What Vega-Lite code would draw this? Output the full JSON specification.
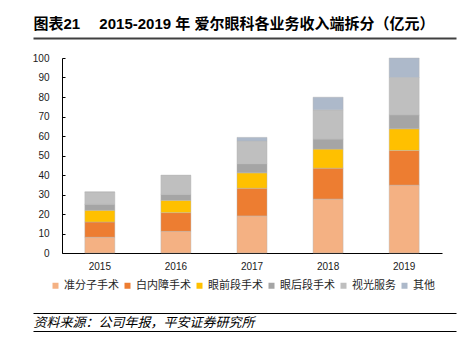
{
  "$schema": "https://vega.github.io/schema/vega-lite/v6.json",
  "background": "white",
  "padding": {"left": 32, "top": 16, "right": 6, "bottom": 4},
  "width": 380,
  "height": 195,
  "config": {
    "view": {"stroke": null},
    "font": "Liberation Sans, Noto Sans CJK SC",
    "axis": {"labelFont": "Liberation Sans, Noto Sans CJK SC", "titleFont": "Liberation Sans, Noto Sans CJK SC"},
    "legend": {"labelFont": "Liberation Sans, Noto Sans CJK SC"}
  },
  "data": {
    "values": [
      {"year": "2015", "category": "准分子手术", "rank": 1, "value": 8.1},
      {"year": "2015", "category": "白内障手术", "rank": 2, "value": 7.8},
      {"year": "2015", "category": "眼前段手术", "rank": 3, "value": 6.0},
      {"year": "2015", "category": "眼后段手术", "rank": 4, "value": 3.1},
      {"year": "2015", "category": "视光服务", "rank": 5, "value": 6.3},
      {"year": "2015", "category": "其他", "rank": 6, "value": 0.0},
      {"year": "2016", "category": "准分子手术", "rank": 1, "value": 11.1},
      {"year": "2016", "category": "白内障手术", "rank": 2, "value": 9.6},
      {"year": "2016", "category": "眼前段手术", "rank": 3, "value": 6.3},
      {"year": "2016", "category": "眼后段手术", "rank": 4, "value": 3.1},
      {"year": "2016", "category": "视光服务", "rank": 5, "value": 9.7},
      {"year": "2016", "category": "其他", "rank": 6, "value": 0.0},
      {"year": "2017", "category": "准分子手术", "rank": 1, "value": 19.0},
      {"year": "2017", "category": "白内障手术", "rank": 2, "value": 14.2},
      {"year": "2017", "category": "眼前段手术", "rank": 3, "value": 7.9},
      {"year": "2017", "category": "眼后段手术", "rank": 4, "value": 4.6},
      {"year": "2017", "category": "视光服务", "rank": 5, "value": 11.7},
      {"year": "2017", "category": "其他", "rank": 6, "value": 1.9},
      {"year": "2018", "category": "准分子手术", "rank": 1, "value": 27.7},
      {"year": "2018", "category": "白内障手术", "rank": 2, "value": 15.8},
      {"year": "2018", "category": "眼前段手术", "rank": 3, "value": 9.8},
      {"year": "2018", "category": "眼后段手术", "rank": 4, "value": 5.1},
      {"year": "2018", "category": "视光服务", "rank": 5, "value": 15.0},
      {"year": "2018", "category": "其他", "rank": 6, "value": 6.5},
      {"year": "2019", "category": "准分子手术", "rank": 1, "value": 34.8},
      {"year": "2019", "category": "白内障手术", "rank": 2, "value": 17.8},
      {"year": "2019", "category": "眼前段手术", "rank": 3, "value": 11.1},
      {"year": "2019", "category": "眼后段手术", "rank": 4, "value": 7.1},
      {"year": "2019", "category": "视光服务", "rank": 5, "value": 19.2},
      {"year": "2019", "category": "其他", "rank": 6, "value": 10.0}
    ]
  },
  "resolve": {"scale": {"x": "independent"}, "axis": {"x": "independent"}},
  "layer": [
    {
      "mark": {"type": "bar", "stroke": "#b4b4b4", "strokeWidth": 0.6, "strokeOpacity": 0.7},
      "encoding": {
        "x": {
          "field": "year",
          "type": "nominal",
          "scale": {"paddingInner": 0.605, "paddingOuter": 0.3},
          "axis": {
            "title": null,
            "labelAngle": 0,
            "labelFontSize": 10,
            "labelColor": "#1a1a1a",
            "labelPadding": 8,
            "ticks": false,
            "domainColor": "#000000",
            "domainWidth": 1
          }
        },
        "y": {
          "field": "value",
          "type": "quantitative",
          "stack": "zero",
          "scale": {"domain": [0, 100], "nice": false},
          "axis": {
            "title": null,
            "values": [0, 10, 20, 30, 40, 50, 60, 70, 80, 90, 100],
            "grid": false,
            "labelFontSize": 10,
            "labelColor": "#1a1a1a",
            "labelPadding": 16,
            "tickSize": -3,
            "tickColor": "#000000",
            "domainColor": "#000000",
            "domainWidth": 1
          }
        },
        "color": {
          "field": "category",
          "type": "nominal",
          "sort": ["准分子手术", "白内障手术", "眼前段手术", "眼后段手术", "视光服务", "其他"],
          "scale": {
            "domain": ["准分子手术", "白内障手术", "眼前段手术", "眼后段手术", "视光服务", "其他"],
            "range": ["#F4B183", "#ED7D31", "#FFC000", "#A5A5A5", "#BFBFBF", "#ADB9CA"]
          },
          "legend": {
            "title": null,
            "orient": "none",
            "legendX": -12,
            "legendY": 222,
            "direction": "horizontal",
            "padding": 0,
            "symbolType": "square",
            "symbolSize": 36,
            "symbolStrokeWidth": 0,
            "labelFontSize": 11,
            "labelColor": "#262626",
            "labelOffset": 3,
            "columnPadding": 3
          }
        },
        "order": {"field": "rank", "sort": "ascending"}
      }
    },
    {
      "mark": {"type": "rule", "opacity": 0},
      "encoding": {
        "x": {
          "datum": 0,
          "type": "quantitative",
          "scale": {"domain": [0, 1], "range": [-29, 394]},
          "axis": {
            "orient": "top",
            "offset": 20,
            "domain": true,
            "domainOpacity": 1,
            "labels": false,
            "ticks": false,
            "grid": false,
            "domainColor": "#404040",
            "domainWidth": 2,
            "minExtent": 0,
            "title": "图表21　 2015-2019 年 爱尔眼科各业务收入端拆分（亿元）",
            "titleAnchor": "start",
            "titleAlign": "left",
            "titleBaseline": "alphabetic",
            "titlePadding": 10,
            "titleFontSize": 15,
            "titleFontWeight": "bold",
            "titleColor": "#000000",
            "titleLimit": 1000
          }
        }
      }
    },
    {
      "mark": {"type": "rule", "opacity": 0},
      "encoding": {
        "x": {
          "datum": 0,
          "type": "quantitative",
          "scale": {"domain": [0, 1], "range": [-29, 394]},
          "axis": {
            "orient": "bottom",
            "offset": 60,
            "domain": true,
            "domainOpacity": 1,
            "labels": false,
            "ticks": false,
            "grid": false,
            "domainColor": "#000000",
            "domainWidth": 1.2,
            "minExtent": 0,
            "title": "资料来源：公司年报，平安证券研究所",
            "titleAnchor": "start",
            "titleAlign": "left",
            "titleBaseline": "alphabetic",
            "titlePadding": 13.5,
            "titleFontSize": 13,
            "titleFontWeight": "normal",
            "titleFontStyle": "italic",
            "titleColor": "#000000",
            "titleLimit": 1000
          }
        }
      }
    },
    {
      "mark": {"type": "rule", "opacity": 0},
      "encoding": {
        "x": {
          "datum": 0,
          "type": "quantitative",
          "scale": {"domain": [0, 1], "range": [-29, 394]},
          "axis": {
            "orient": "bottom",
            "offset": 78,
            "domain": true,
            "domainOpacity": 1,
            "labels": false,
            "ticks": false,
            "grid": false,
            "domainColor": "#000000",
            "domainWidth": 1.2,
            "minExtent": 0,
            "title": null
          }
        }
      }
    }
  ]
}
